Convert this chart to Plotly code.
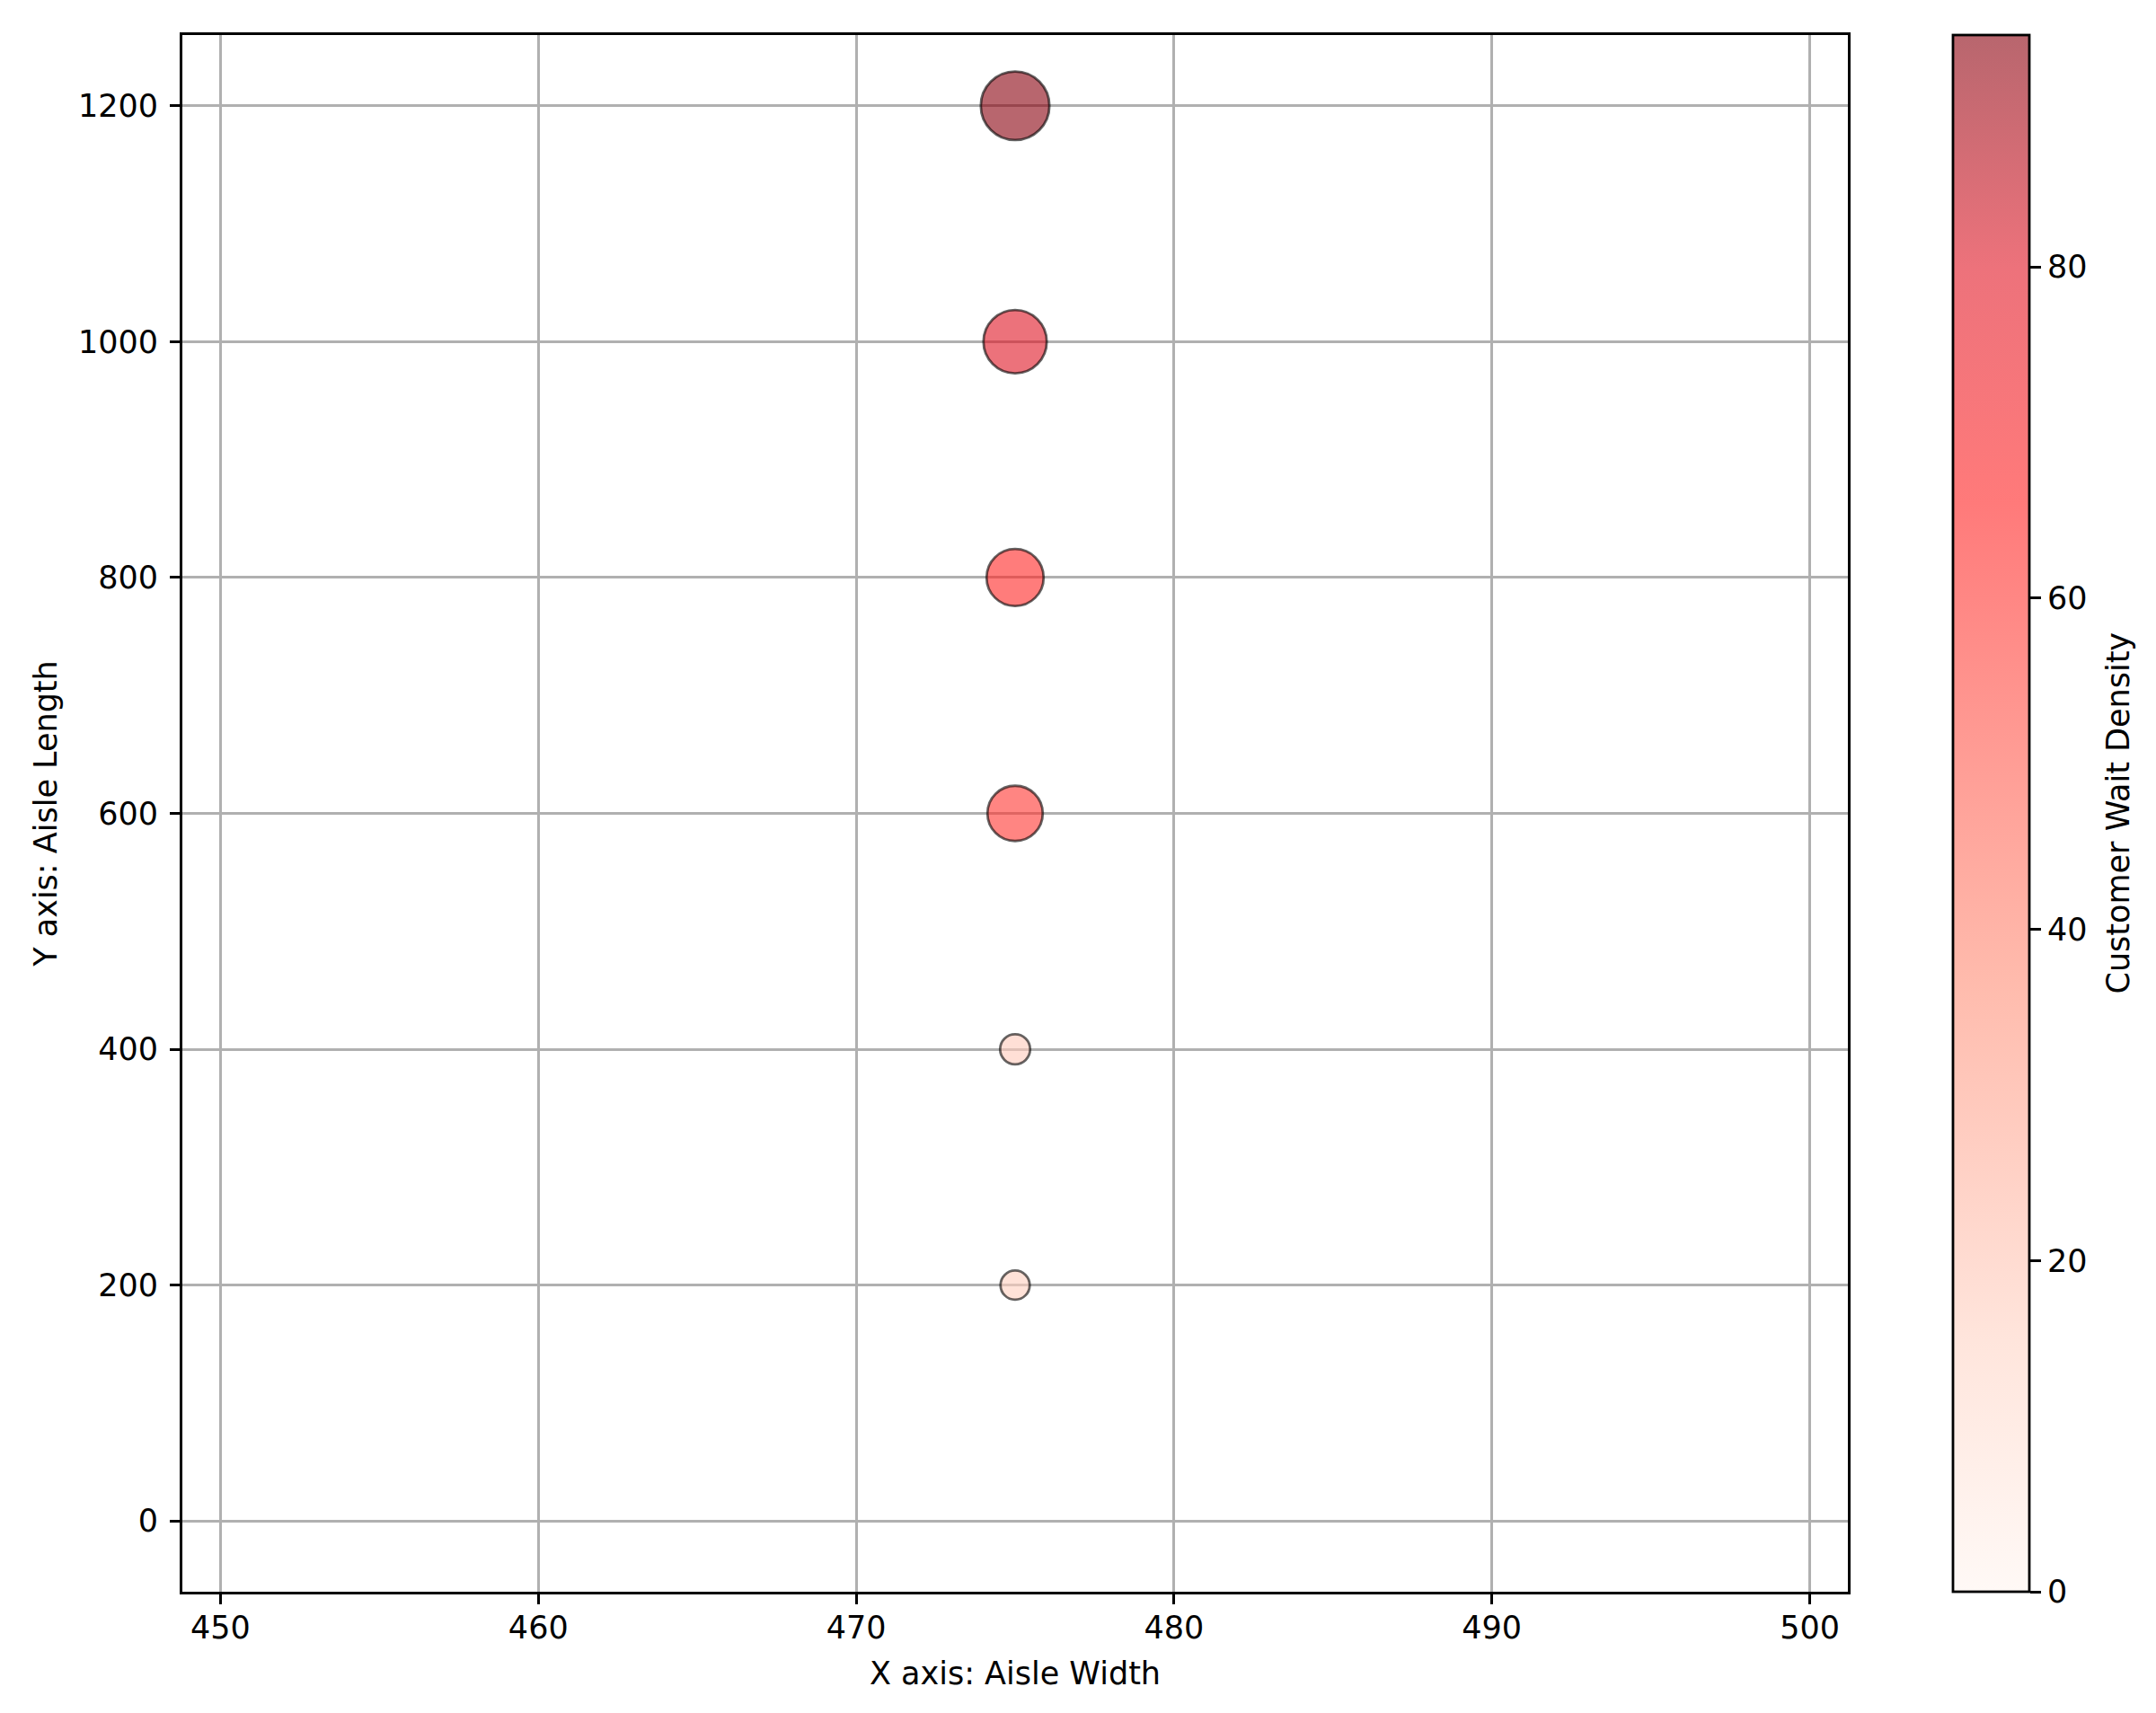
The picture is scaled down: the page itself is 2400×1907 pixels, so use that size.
import plotly.graph_objects as go

# aisle positions and wait density per spot
aisle_width = [475, 475, 475, 475, 475, 475]
aisle_length = [200, 400, 600, 800, 1000, 1200]
wait_density = [17, 18, 61, 65, 80, 94]

cbar_ticks = [0, 20, 40, 60, 80]
x_ticks = [450, 460, 470, 480, 490, 500]
y_ticks = [0, 200, 400, 600, 800, 1000, 1200]

ALPHA = 0.6
# light -> bright red -> dark red, drawn with alpha like the original
base_colors = [
    (0.00, (255, 245, 240)),
    (0.16, (255, 212, 197)),
    (0.39, (255, 142, 118)),
    (0.70, (255, 33, 33)),
    (0.85, (225, 20, 35)),
    (1.00, (137, 0, 13)),
]
colorscale = [[p, f"rgba({r},{g},{b},{ALPHA})"] for p, (r, g, b) in base_colors]

FONT = "DejaVu Sans, Liberation Sans, sans-serif"
FS = 35
LW = 2.8
# page body has a small margin, so the figure is a bit smaller than the window
W, H = 2384, 1891
left, right, top, bottom = 195, 2049, 31, 1764

fig = go.Figure()
fig.add_trace(
    go.Scatter(
        x=aisle_width,
        y=aisle_length,
        mode="markers",
        marker=dict(
            size=wait_density,
            sizemode="area",
            sizeref=1.777 * 94 / 72**2,
            opacity=1,
            color=wait_density,
            colorscale=colorscale,
            cmin=0,
            cmax=94,
            line=dict(color="rgba(0,0,0,0.6)", width=LW),
            colorbar=dict(
                x=(2166 - left) / (right - left),
                xanchor="left",
                y=0.5,
                yanchor="middle",
                len=1,
                lenmode="fraction",
                thickness=85,
                thicknessmode="pixels",
                outlinewidth=LW,
                outlinecolor="black",
                ticks="outside",
                ticklen=12,
                tickwidth=LW,
                tickcolor="black",
                tickvals=cbar_ticks,
                tickfont=dict(size=FS, color="black", family=FONT),
                xpad=0,
                ypad=0,
            ),
        ),
        showlegend=False,
        hovertemplate="Width=%{x}<br>Length=%{y}<br>Density=%{marker.color}<extra></extra>",
    )
)

axis_common = dict(
    showgrid=True,
    gridcolor="#b0b0b0",
    gridwidth=LW,
    zeroline=False,
    showline=True,
    linecolor="black",
    linewidth=LW,
    mirror=True,
    ticks="outside",
    ticklen=11,
    tickwidth=LW,
    tickcolor="black",
    tickfont=dict(size=FS, color="black", family=FONT),
)

fig.update_layout(
    width=W,
    height=H,
    margin=dict(l=left, r=W - right, t=top, b=H - bottom),
    paper_bgcolor="white",
    plot_bgcolor="white",
    font=dict(family=FONT, size=FS, color="black"),
    xaxis=dict(
        range=[448.8, 501.2],
        tickvals=x_ticks,
        ticklabelstandoff=-4,
        title=dict(text="X axis: Aisle Width", standoff=20,
                   font=dict(size=FS, color="black", family=FONT)),
        **axis_common,
    ),
    yaxis=dict(
        range=[-60, 1260],
        tickvals=y_ticks,
        ticklabelstandoff=6,
        title=dict(text="Y axis: Aisle Length", standoff=13,
                   font=dict(size=FS, color="black", family=FONT)),
        **axis_common,
    ),
    annotations=[
        dict(
            text="Customer Wait Density",
            textangle=-90,
            xref="paper",
            yref="paper",
            x=(2349 - left) / (right - left),
            y=0.5,
            xanchor="center",
            yanchor="middle",
            showarrow=False,
            font=dict(size=FS, color="black", family=FONT),
        )
    ],
)

fig.write_html("out.html")
